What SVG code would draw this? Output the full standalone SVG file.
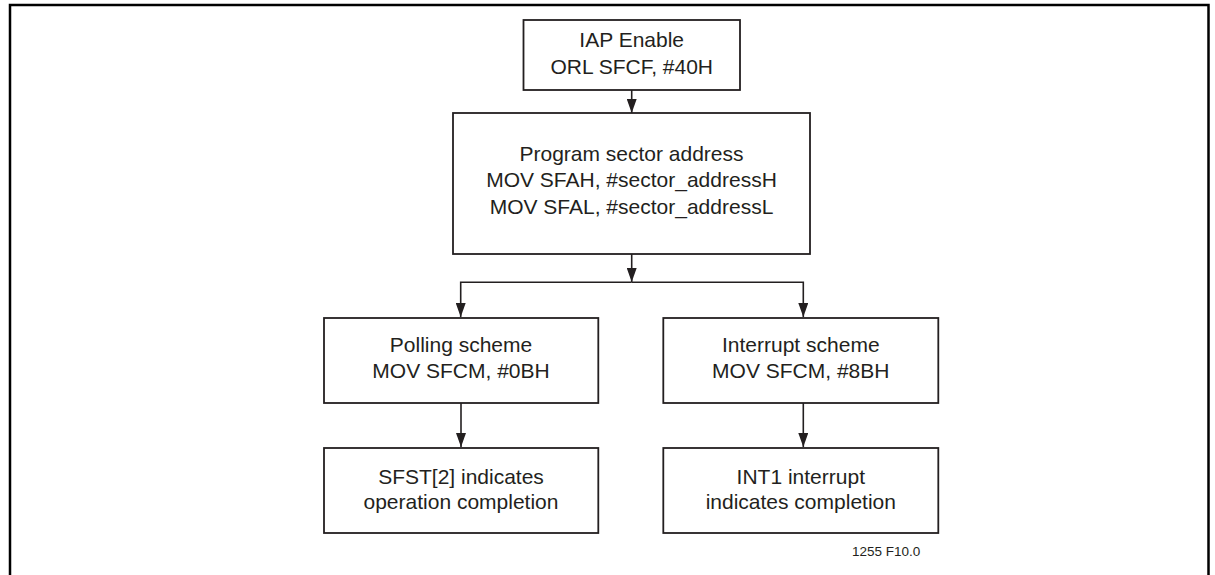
<svg xmlns="http://www.w3.org/2000/svg" width="1215" height="575" viewBox="0 0 1215 575">
<style>
.box{fill:#fff;stroke:#231f20;stroke-width:1.8}
.t{font-family:"Liberation Sans",Arial,sans-serif;font-size:21px;fill:#231f20;text-anchor:middle}
.c{fill:none;stroke:#231f20;stroke-width:1.6;marker-end:url(#ah)}
.lbl{font-family:"Liberation Sans",Arial,sans-serif;font-size:13.5px;fill:#231f20}
</style>
<defs>
<marker id="ah" markerUnits="userSpaceOnUse" markerWidth="14" markerHeight="10" refX="14" refY="5" orient="auto" viewBox="0 0 14 10">
<path d="M0,0 L14,5 L0,10 Z" fill="#231f20"/>
</marker>
</defs>
<rect x="10" y="5" width="1198.5" height="580" fill="none" stroke="#000" stroke-width="2.5"/>
<g id="connectors">
<path class="c" d="M631.7,90 V113"/>
<path class="c" d="M631.7,254 V282"/>
<path class="c" d="M631.7,282.3 H460.7 V317"/>
<path class="c" d="M631.7,282.3 H803.3 V317"/>
<path class="c" d="M461,403 V447"/>
<path class="c" d="M803.3,403 V447"/>
</g>
<g id="iap-enable">
<rect class="box" x="523.5" y="20" width="216.5" height="70"/>
<text class="t" x="631.7" y="47">IAP Enable</text>
<text class="t" x="631.7" y="74">ORL SFCF, #40H</text>
</g>
<g id="program-sector">
<rect class="box" x="453" y="113" width="357" height="141"/>
<text class="t" x="631.5" y="160.5">Program sector address</text>
<text class="t" x="631.5" y="187.3">MOV SFAH, #sector_addressH</text>
<text class="t" x="631.5" y="214">MOV SFAL, #sector_addressL</text>
</g>
<g id="polling">
<rect class="box" x="324" y="318" width="274.3" height="85"/>
<text class="t" x="461" y="351.7">Polling scheme</text>
<text class="t" x="461" y="377.5">MOV SFCM, #0BH</text>
</g>
<g id="interrupt">
<rect class="box" x="663.3" y="318" width="275" height="85"/>
<text class="t" x="800.8" y="351.7">Interrupt scheme</text>
<text class="t" x="800.8" y="377.5">MOV SFCM, #8BH</text>
</g>
<g id="sfst">
<rect class="box" x="324" y="448" width="274.3" height="85"/>
<text class="t" x="461" y="483.5">SFST[2] indicates</text>
<text class="t" x="461" y="508.5">operation completion</text>
</g>
<g id="int1">
<rect class="box" x="663.3" y="448" width="275" height="85"/>
<text class="t" x="800.8" y="483.5">INT1 interrupt</text>
<text class="t" x="800.8" y="508.5">indicates completion</text>
</g>
<text class="lbl" x="852" y="556">1255 F10.0</text>
</svg>
